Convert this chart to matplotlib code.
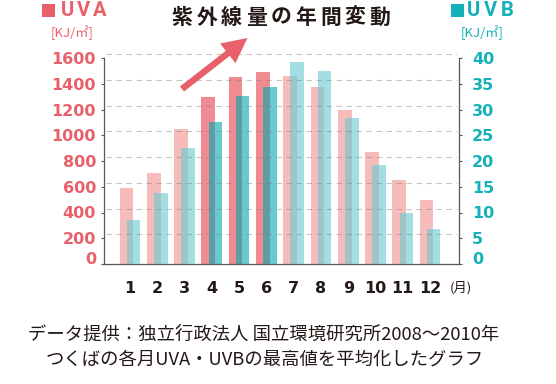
import matplotlib
matplotlib.use("Agg")
import matplotlib.pyplot as plt
from matplotlib.patches import FancyArrow, Rectangle
from matplotlib.transforms import ScaledTranslation

# data
months = [1, 2, 3, 4, 5, 6, 7, 8, 9, 10, 11, 12]
uva = [588, 707, 1049, 1295, 1452, 1489, 1458, 1372, 1198, 868, 650, 495]
uvb = [8.5, 13.8, 22.5, 27.6, 32.7, 34.4, 39.2, 37.4, 28.3, 19.2, 10.0, 6.8]
highlight = [4, 5, 6]
uva_ticks = list(range(0, 1601, 200))
uvb_ticks = list(range(0, 41, 5))
title = "紫外線量の年間変動"
unit = "[KJ/㎡]"
note1 = "データ提供：独立行政法人 国立環境研究所2008～2010年"
note2 = "つくばの各月UVA・UVBの最高値を平均化したグラフ"

W, H = 556, 384
RED = "#e8606a"
TEAL = "#14b1ba"
INK = "#231815"
SPINE = "#595757"
JP = ["Noto Sans CJK JP", "DejaVu Sans"]

fig = plt.figure(figsize=(W / 100, H / 100), dpi=100)
ax = fig.add_axes([104 / W, 1 - 264 / H, 355 / W, 206 / H])
ax2 = ax.twinx()


def ftext(x, y, s, **kw):
    # place text in pixel coordinates measured from the top-left
    return fig.text(x / W, 1 - y / H, s, **kw)


def spaced(x0, y, s, pitch, **kw):
    for i, ch in enumerate(s):
        ftext(x0 + i * pitch, y, ch, ha="center", va="center", **kw)


# bars
uva_col = ["#ef8b91" if m in highlight else "#f6bcbb" for m in months]
uvb_col = [(0.0, 0.66, 0.69, 0.6) if m in highlight else (0.42, 0.80, 0.82, 0.62) for m in months]
ax.bar([m - 0.13 for m in months], uva, width=0.5, color=uva_col, zorder=2)
ax2.bar([m + 0.13 for m in months], uvb, width=0.5, color=uvb_col, zorder=2)

ax.set_xlim(0.047, 13.06)
ax.set_ylim(0, 1600)
ax2.set_ylim(0, 40)

# dashed grid, drawn a few pixels above the ticks like the original artwork
shift = ScaledTranslation(0, 4 / 100, fig.dpi_scale_trans)
ax2.hlines(uvb_ticks[1:], 0.005, 0.995, transform=ax2.get_yaxis_transform() + shift,
           colors="#808080", alpha=0.45, linewidth=0.8, linestyles=(0, (5, 4)),
           zorder=3, clip_on=False)

# spines
for a in (ax, ax2):
    a.spines["top"].set_visible(False)
ax.spines["right"].set_visible(False)
ax2.spines["left"].set_visible(False)
ax2.spines["bottom"].set_visible(False)
for s in ("left", "bottom"):
    ax.spines[s].set_color(SPINE)
    ax.spines[s].set_linewidth(0.9)
ax2.spines["right"].set_color(SPINE)
ax2.spines["right"].set_linewidth(0.9)

num_font = dict(family="DejaVu Sans", weight="bold", size=11.5)

ax.set_yticks(uva_ticks)
ax.set_yticklabels([str(v) for v in uva_ticks], color=RED, **num_font)
ax.tick_params(axis="y", length=2.2, width=0.8, color=SPINE, pad=3.6)
ax2.set_yticks(uvb_ticks)
ax2.set_yticklabels([str(v) for v in uvb_ticks], color=TEAL, **num_font)
ax2.tick_params(axis="y", length=2.2, width=0.8, color=SPINE, pad=7.2)
ax.yaxis.get_major_ticks()[0].label1.set_verticalalignment("baseline")
ax2.yaxis.get_major_ticks()[0].label2.set_verticalalignment("baseline")

ax.set_xticks(months)
ax.set_xticklabels([str(m) for m in months], color=INK, **num_font)
ax.tick_params(axis="x", direction="in", length=1.8, width=0.8, color=SPINE, pad=12)
ftext(450, 288, "(月)", family=JP, size=9.5, color=INK, va="center", ha="left")

# title and arrow
spaced(182, 17, title, 24.75, family=JP, weight="bold", size=15, color=INK)
fig.add_artist(FancyArrow(1.82, (H - 89) / 100, 0.655, 0.51, width=0.065,
                          head_width=0.25, head_length=0.25, length_includes_head=True,
                          transform=fig.dpi_scale_trans, color=RED, linewidth=0))

# axis headers
hdr = dict(family=["Roboto", "DejaVu Sans"], weight="bold", size=14.5)
fig.add_artist(Rectangle((42 / W, 1 - 17 / H), 13 / W, 13 / H, transform=fig.transFigure,
                         color=RED, linewidth=0))
spaced(67, 11, "UVA", 16.5, color=RED, **hdr)
ftext(72, 33, unit, family=JP, size=9.5, color=RED, ha="center", va="center")

fig.add_artist(Rectangle((451 / W, 1 - 17 / H), 13 / W, 13 / H, transform=fig.transFigure,
                         color=TEAL, linewidth=0))
spaced(474, 11, "UVB", 16.5, color=TEAL, **hdr)
ftext(482, 33, unit, family=JP, size=9.5, color=TEAL, ha="center", va="center")

# source note
ftext(264, 335, note1, family=JP, size=13.2, color=INK, ha="center", va="center")
ftext(265, 359, note2, family=JP, size=13.2, color=INK, ha="center", va="center")

fig.savefig("out.png", dpi=100)
